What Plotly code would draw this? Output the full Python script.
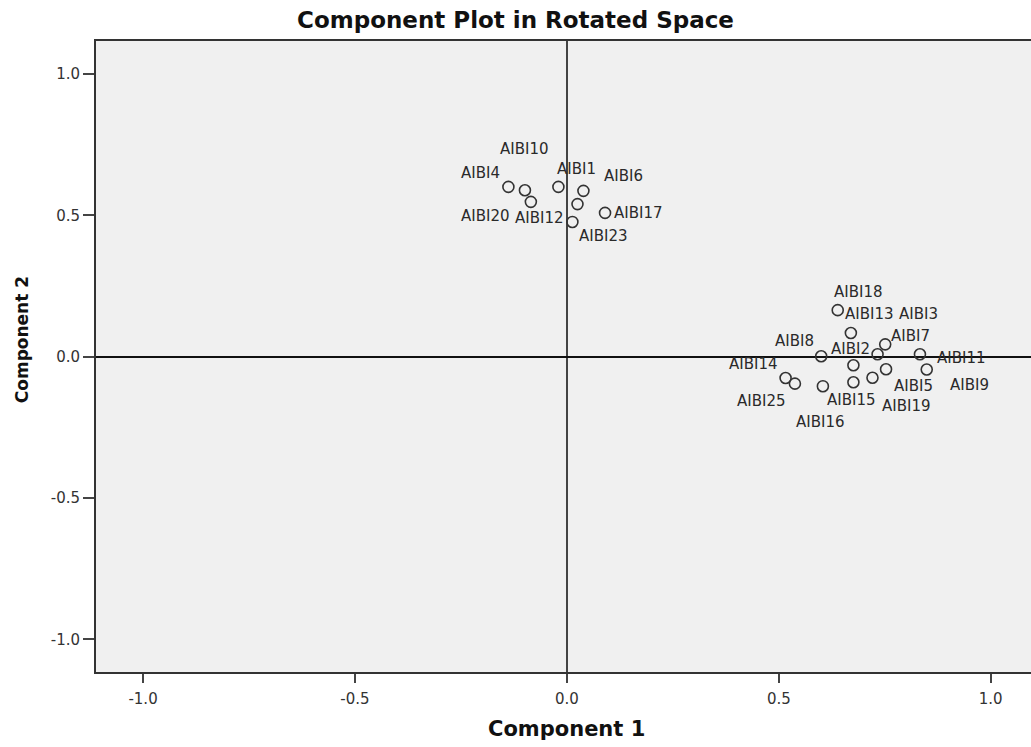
import plotly.graph_objects as go

# ---- data ----
labels = ["AIBI4", "AIBI10", "AIBI20", "AIBI1", "AIBI6", "AIBI12", "AIBI23", "AIBI17",
          "AIBI18", "AIBI13", "AIBI3", "AIBI7", "AIBI11", "AIBI8", "AIBI2", "AIBI5",
          "AIBI9", "AIBI19", "AIBI15", "AIBI16", "AIBI14", "AIBI25"]
component1 = [-0.138, -0.099, -0.085, -0.020, 0.039, 0.025, 0.013, 0.090,
              0.639, 0.670, 0.751, 0.733, 0.833, 0.600, 0.676, 0.753,
              0.849, 0.721, 0.676, 0.604, 0.516, 0.538]
component2 = [0.601, 0.589, 0.548, 0.601, 0.587, 0.540, 0.477, 0.509,
              0.165, 0.084, 0.044, 0.009, 0.009, 0.002, -0.030, -0.044,
              -0.045, -0.074, -0.090, -0.104, -0.075, -0.095]
tick_values = [-1.0, -0.5, 0.0, 0.5, 1.0]
tick_labels = ["-1.0", "-0.5", "0.0", "0.5", "1.0"]

# ---- label placement (pixel offsets of each label from its point; styling only) ----
label_dx = [-27.6, 0, -45, 18.4, 40, -37.7, 31, 33,
            20.6, 19, 33.3, 33, 41.7, -27, -2.6, 27.3,
            42.6, 34.4, -1.6, -2, -32.4, -33.3]
label_dy = [-14, -41, 14.3, -17.4, -15, 14.3, 14.3, 0,
            -18.3, -18.7, -30, -18, 3.3, -15, -16, 17,
            15.7, 28.7, 18, 35.7, -14.4, 17.4]

fig = go.Figure()
fig.add_trace(go.Scatter(
    x=component1, y=component2, mode="markers",
    marker=dict(symbol="circle-open", size=11, color="#333333", line=dict(width=1.6)),
    text=labels, hoverinfo="text", showlegend=False,
))

annotations = []
for lab, x, y, dx, dy in zip(labels, component1, component2, label_dx, label_dy):
    annotations.append(dict(
        x=x, y=y, xref="x", yref="y", text=lab, showarrow=False,
        xshift=dx, yshift=-dy, xanchor="center", yanchor="middle",
        font=dict(family="DejaVu Sans", size=15, color="#2a2a2a"),
    ))

# axis titles
annotations.append(dict(
    x=0.0, xref="x", y=-0.091, yref="paper", text="<b>Component 1</b>",
    showarrow=False, xanchor="center", yanchor="middle",
    font=dict(family="DejaVu Sans", size=21, color="#111111"),
))
annotations.append(dict(
    x=-0.079, xref="paper", y=0.526, yref="paper", text="<b>Component 2</b>",
    showarrow=False, xanchor="center", yanchor="middle", textangle=-90,
    font=dict(family="DejaVu Sans", size=17, color="#111111"),
))

fig.update_layout(
    width=1031, height=747,
    margin=dict(l=96, r=0, t=41, b=75),
    paper_bgcolor="white", plot_bgcolor="#F0F0F0",
    title=dict(text="<b>Component Plot in Rotated Space</b>", x=0.5, xref="container",
               y=1 - 20 / 747, yref="container", xanchor="center", yanchor="middle",
               font=dict(family="DejaVu Sans", size=23, color="#111111")),
    annotations=annotations,
    xaxis=dict(range=[-1.111, 1.095], tickvals=tick_values, ticktext=tick_labels,
               showgrid=False, zeroline=True, zerolinecolor="#444444", zerolinewidth=2,
               showline=True, linecolor="#333333", linewidth=2, mirror=True,
               ticks="outside", ticklen=9, tickwidth=2, tickcolor="#444444",
               ticklabelstandoff=3,
               tickfont=dict(family="DejaVu Sans", size=15, color="#333333")),
    yaxis=dict(range=[-1.115, 1.117], tickvals=tick_values, ticktext=tick_labels,
               showgrid=False, zeroline=True, zerolinecolor="#111111", zerolinewidth=1.6,
               showline=True, linecolor="#333333", linewidth=2,
               ticks="outside", ticklen=11, tickwidth=1.5, tickcolor="#444444",
               tickfont=dict(family="DejaVu Sans", size=15, color="#333333")),
)

fig.write_html("out.html")
